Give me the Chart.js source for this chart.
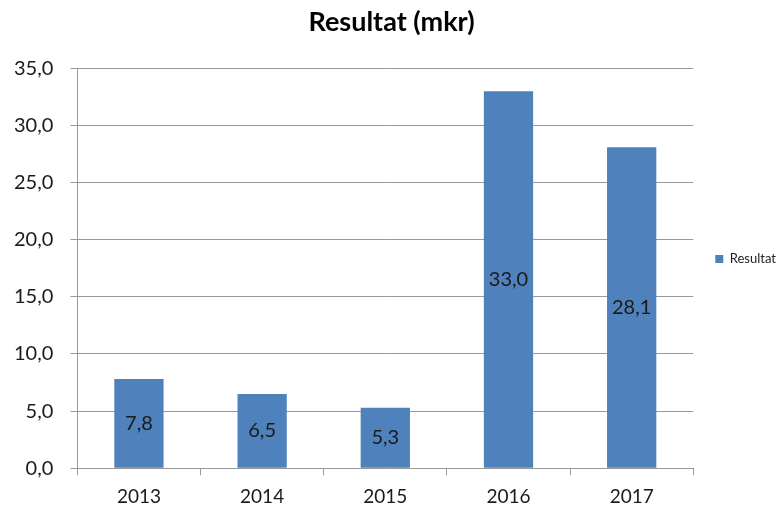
<!DOCTYPE html>
<html>
<head>
<meta charset="utf-8">
<script src="https://cdn.jsdelivr.net/npm/chart.js@4"></script>
<style>
  body { margin: 0; background: #fff; }
  #wrap { width: 778px; height: 508px; }
</style>
</head>
<body>
<div id="wrap"><canvas id="grafico"></canvas></div>
<script>
const ar = ["2013", "2014", "2015", "2016", "2017"];
const resultat = [7.8, 6.5, 5.3, 33.0, 28.1];
const yTicks = [0, 5, 10, 15, 20, 25, 30, 35];

const fmt = (v) => v.toFixed(1).replace(".", ",");

// etiketter mitt i staplarna
const etiketter = {
  id: "etiketter",
  afterDatasetsDraw(chart) {
    const ctx = chart.ctx;
    const meta = chart.getDatasetMeta(0);
    ctx.save();
    ctx.font = "20px Lato";
    ctx.fillStyle = "#1a1a1a";
    ctx.textAlign = "center";
    ctx.textBaseline = "middle";
    meta.data.forEach((bar, i) => {
      const y = (bar.y + bar.base) / 2;
      ctx.fillText(fmt(resultat[i]), bar.x, y);
    });
    ctx.restore();
  },
};

const ctx = document.getElementById("grafico").getContext("2d");
new Chart(ctx, {
  type: "bar",
  data: {
    labels: ar,
    datasets: [
      {
        label: "Resultat",
        data: resultat,
        backgroundColor: "#4f81bd",
        barPercentage: 0.4,
        categoryPercentage: 1,
      },
    ],
  },
  options: {
    responsive: true,
    maintainAspectRatio: false,
    animation: false,
    layout: { padding: { top: 0, bottom: -10, left: -3, right: -8 } },
    plugins: {
      title: {
        display: true,
        text: "Resultat (mkr)",
        font: { family: "Lato", size: 27, weight: "bold" },
        color: "#000",
        padding: { top: 6, bottom: 30 },
      },
      legend: {
        position: "right",
        labels: {
          boxWidth: 8,
          boxHeight: 8,
          font: { family: "Lato", size: 13 },
          color: "#222",
          padding: 22,
        },
      },
      tooltip: { enabled: false },
    },
    scales: {
      x: {
        grid: {
          display: true,
          drawOnChartArea: false,
          offset: true,
          tickLength: 7,
          color: "#999",
        },
        border: { color: "#999" },
        ticks: { font: { family: "Lato", size: 19 }, color: "#1a1a1a", padding: 10 },
      },
      y: {
        min: 0,
        max: 35,
        afterBuildTicks: (axis) => {
          axis.ticks = yTicks.map((v) => ({ value: v }));
        },
        grid: { color: "#999", tickLength: 7 },
        border: { color: "#999" },
        ticks: {
          font: { family: "Lato", size: 20 },
          color: "#1a1a1a",
          padding: 17,
          callback: (v) => fmt(v),
        },
      },
    },
  },
  plugins: [etiketter],
});
</script>
</body>
</html>
